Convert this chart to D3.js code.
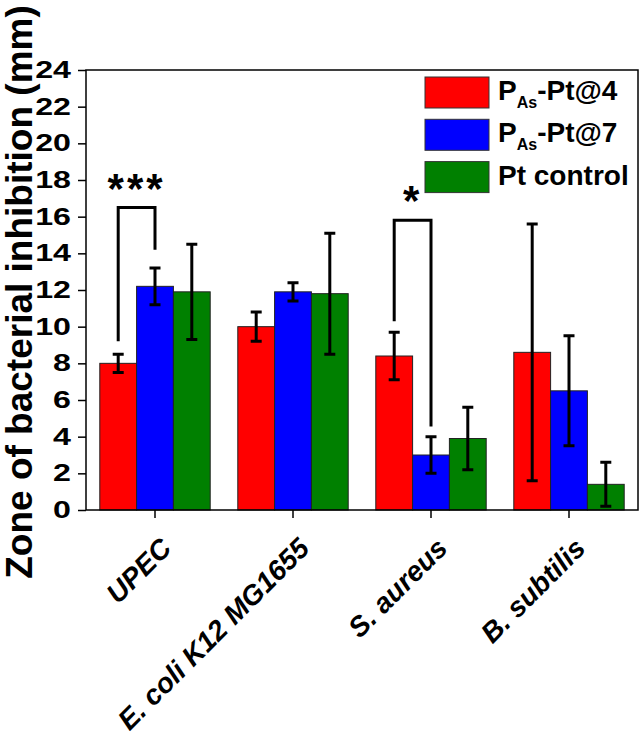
<!DOCTYPE html>
<html lang="en">
<head>
<meta charset="UTF-8"/>
<title>Zone of bacterial inhibition</title>
<script src="https://d3js.org/d3.v7.min.js"></script>
<style type="text/css">
  body { margin: 0; background: #fff; }
  text { font-family: "Liberation Sans", Arial, sans-serif; font-weight: bold; }
  .bar { stroke: #222; stroke-width: 1; }
  .err { stroke: #000; stroke-width: 3; fill: none; }
  .bracket { stroke: #000; stroke-width: 3; fill: none; }
</style>
</head>
<body>
<script>

// categories and series
var categories = ["UPEC", "E. coli K12 MG1655", "S. aureus", "B. subtilis"];
var seriesNames = ["PAs-Pt@4", "PAs-Pt@7", "Pt control"];
var seriesColors = ["#ff0000", "#0000ff", "#008000"];

// mean values and error (mm)
var pt4 = [8.0, 10.0, 8.4, 8.6];
var pt4Err = [0.5, 0.8, 1.3, 7.0];
var pt7 = [12.2, 11.9, 3.0, 6.5];
var pt7Err = [1.0, 0.5, 1.0, 3.0];
var ptCtrl = [11.9, 11.8, 3.9, 1.4];
var ptCtrlErr = [2.6, 3.3, 1.7, 1.2];

var yTicks = [0, 2, 4, 6, 8, 10, 12, 14, 16, 18, 20, 22, 24];

// significance brackets: category, top, left foot, right foot, label
var sigCats = ["UPEC", "S. aureus"];
var sigTop = [16.5, 15.8];
var sigLeft = [9.2, 10.3];
var sigRight = [14.2, 4.55];
var sigLabel = ["***", "*"];

var values = [pt4, pt7, ptCtrl];
var errors = [pt4Err, pt7Err, ptCtrlErr];

var margin = {top: 70, right: 4, bottom: 232, left: 86},
    width = 642 - margin.left - margin.right,
    height = 742 - margin.top - margin.bottom;

var svg = d3.select("body").append("svg")
    .attr("width", 642)
    .attr("height", 742)
  .append("g")
    .attr("transform", "translate(" + margin.left + "," + margin.top + ")");

var x0 = d3.scaleBand().domain(categories).range([0, width])
    .paddingInner(0.2).paddingOuter(0.1);
var x1 = d3.scaleBand().domain(d3.range(seriesNames.length)).range([0, x0.bandwidth()]);
var y = d3.scaleLinear().domain([0, 24]).range([height, 0]);

// bars
var rows = [];
categories.forEach(function(c, i) {
  seriesNames.forEach(function(s, j) {
    rows.push({cat: c, s: j, v: values[j][i], e: errors[j][i]});
  });
});

svg.selectAll(".bar").data(rows).enter().append("rect")
    .attr("class", "bar")
    .attr("x", function(d) { return x0(d.cat) + x1(d.s); })
    .attr("y", function(d) { return y(d.v); })
    .attr("width", x1.bandwidth())
    .attr("height", function(d) { return height - y(d.v); })
    .attr("fill", function(d) { return seriesColors[d.s]; });

// error bars
var cap = 5.5;
function cx(d) { return x0(d.cat) + x1(d.s) + x1.bandwidth() / 2; }
svg.selectAll(".err").data(rows).enter().append("path")
    .attr("class", "err")
    .attr("d", function(d) {
      var c = cx(d), t = y(d.v + d.e), b = y(Math.max(0, d.v - d.e));
      return "M" + (c - cap) + "," + t + "H" + (c + cap) +
             "M" + c + "," + t + "V" + b +
             "M" + (c - cap) + "," + b + "H" + (c + cap);
    });

// frame
svg.append("rect")
    .attr("width", width).attr("height", height)
    .attr("fill", "none").attr("stroke", "#000").attr("stroke-width", 1.5);

// y axis
var yAxis = svg.append("g")
    .call(d3.axisLeft(y).tickValues(yTicks).tickSize(8).tickPadding(6));
yAxis.select(".domain").remove();
yAxis.selectAll("line").attr("stroke", "#000").attr("stroke-width", 1.5);
yAxis.selectAll("text")
    .attr("fill", "#000")
    .style("font-size", "23px")
    .attr("x", -15 / 1.4)
    .attr("transform", "scale(1.4,1)");

// x axis
var xAxis = svg.append("g")
    .attr("transform", "translate(0," + height + ")")
    .call(d3.axisBottom(x0).tickSize(8).tickFormat(""));
xAxis.select(".domain").remove();
xAxis.selectAll("line").attr("stroke", "#000").attr("stroke-width", 1.5);

// rotated category labels
var xl = svg.selectAll(".xlab").data(categories).enter().append("g")
    .attr("class", "xlab")
    .attr("transform", function(d) {
      return "translate(" + (x0(d) + x0.bandwidth() / 2 + 18) + "," + (height + 40) + ")";
    });
xl.append("text")
    .attr("text-anchor", "end")
    .attr("transform", "rotate(-45)")
    .style("font-size", "28px")
    .style("font-style", "italic")
    .text(function(d) { return d; });

// y label
svg.append("text")
    .attr("text-anchor", "middle")
    .style("font-size", "37px")
    .attr("transform", "translate(" + (32 - margin.left) + "," + (292 - margin.top) + ") rotate(-90)")
    .text("Zone of bacterial inhibition (mm)");

// significance brackets
sigCats.forEach(function(c, i) {
  var xa = x0(c) + x1(0) + x1.bandwidth() / 2;
  var xb = x0(c) + x1(1) + x1.bandwidth() / 2;
  svg.append("path")
      .attr("class", "bracket")
      .attr("d", "M" + xa + "," + y(sigLeft[i]) + "V" + y(sigTop[i]) +
                 "H" + xb + "V" + y(sigRight[i]));
  svg.append("text")
      .attr("text-anchor", "middle")
      .style("font-size", "42px")
      .attr("letter-spacing", "3px")
      .attr("x", (xa + xb) / 2)
      .attr("y", y(sigTop[i]) - 5)
      .text(sigLabel[i]);
});

// legend
var legend = svg.append("g").attr("transform", "translate(" + (425 - margin.left) + "," + (77 - margin.top) + ")");
seriesNames.forEach(function(s, j) {
  var g = legend.append("g").attr("transform", "translate(0," + (j * 42.3) + ")");
  g.append("rect")
      .attr("width", 64).attr("height", 31)
      .attr("fill", seriesColors[j])
      .attr("stroke", "#333").attr("stroke-width", 1);
  var t = g.append("text").attr("x", 73).attr("y", 23).style("font-size", "28px");
  if (s.indexOf("PAs") === 0) {
    t.append("tspan").text("P");
    t.append("tspan").attr("dy", 8).style("font-size", "16px").text("As");
    t.append("tspan").attr("dy", -8).text(s.slice(3));
  } else {
    t.text(s);
  }
});

</script>
</body>
</html>
